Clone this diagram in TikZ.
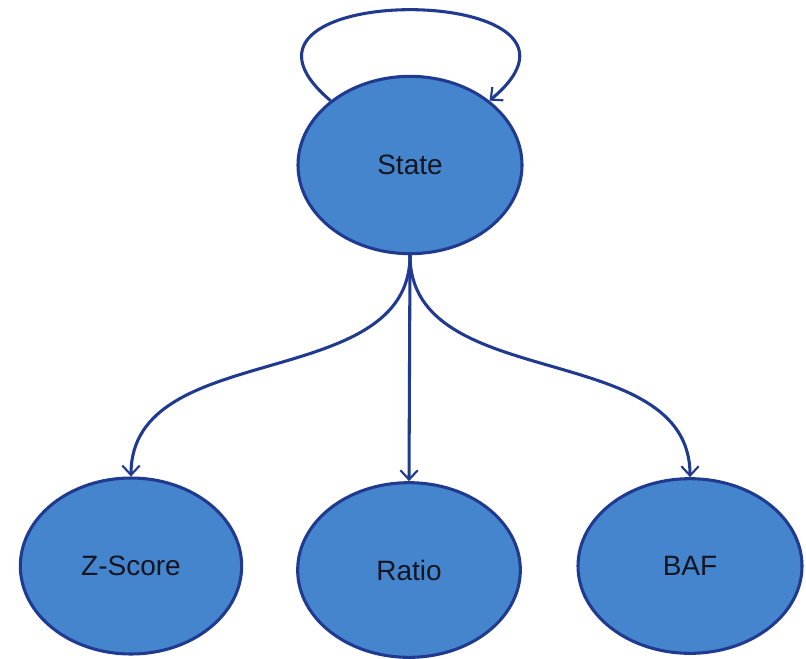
\documentclass[tikz,border=0pt]{standalone}
\usepackage{fontspec}
\setmainfont{Liberation Sans}
\usetikzlibrary{arrows.meta,shapes.geometric}
\definecolor{nodefill}{HTML}{4485CE}
\definecolor{nodeline}{HTML}{1F3A8F}
\definecolor{txt}{HTML}{151520}
\tikzset{
  stnode/.style={ellipse,draw=nodeline,fill=nodefill,line width=2.3pt,
    inner sep=0pt,text=txt,font=\fontsize{21}{25}\selectfont},
  arr/.style={draw=nodeline,line width=2.3pt,
    -{Straight Barb[length=7pt,width=13pt,line width=1.6pt]}}
}
\begin{document}
\begin{tikzpicture}[x=0.75pt,y=-0.75pt]
\useasboundingbox (0,0) rectangle (806,658);
\node[stnode,minimum width=168pt,minimum height=133pt] (S) at (410,165) {State};
\node[stnode,minimum width=166pt,minimum height=132pt] (Z) at (131,566) {Z-Score};
\node[stnode,minimum width=167pt,minimum height=131pt] (R) at (409,570) {\raisebox{-2pt}{Ratio}};
\node[stnode,minimum width=168pt,minimum height=131pt] (B) at (690,566) {BAF};
\draw[arr] (S.141) .. controls +(-144,-122) and +(144,-120) .. (S.39);
\draw[arr] (S.south) to[out=-90,in=90] (Z.north);
\draw[arr] (S.south) -- (R.north);
\draw[arr] (S.south) to[out=-90,in=90] (B.north);
\end{tikzpicture}
\end{document}
